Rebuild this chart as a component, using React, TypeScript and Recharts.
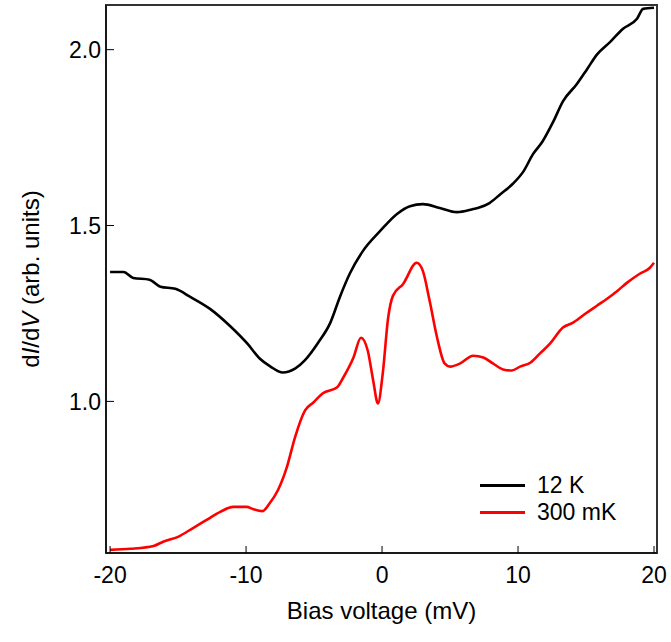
import React from 'react';
import { LineChart, Line, XAxis, YAxis, ReferenceArea } from 'recharts';

// 12 K curve: bias (mV) and dI/dV
const warmBias = [-20.0, -19.0, -18.3, -17.1, -16.3, -15.2, -14.1, -12.65, -11.2, -9.9, -9.0, -8.2, -7.3, -6.4, -5.7, -4.7, -3.8, -3.1, -2.35, -1.4, -0.15, 1.1, 2.05, 3.0, 4.25, 5.5, 6.7, 7.2, 7.9, 8.7, 9.6, 10.4, 11.1, 11.8, 12.6, 13.3, 14.3, 15.1, 15.8, 16.8, 17.7, 18.75, 19.2, 20.0];
const warmCond = [1.368, 1.368, 1.351, 1.346, 1.326, 1.32, 1.297, 1.263, 1.215, 1.164, 1.122, 1.099, 1.082, 1.093, 1.116, 1.167, 1.224, 1.297, 1.365, 1.428, 1.484, 1.533, 1.555, 1.561, 1.55, 1.538, 1.547, 1.552, 1.564, 1.589, 1.618, 1.654, 1.703, 1.739, 1.796, 1.853, 1.901, 1.946, 1.986, 2.023, 2.059, 2.088, 2.116, 2.119];

// 300 mK curve
const coldBias = [-20.0, -18.5, -16.8, -16.1, -15.0, -13.9, -12.9, -11.9, -10.95, -9.95, -9.5, -8.8, -8.25, -7.65, -7.0, -6.4, -5.65, -5.05, -4.35, -3.3, -2.85, -2.1, -1.55, -1.05, -0.65, -0.3, 0.05, 0.45, 0.8, 1.55, 2.55, 3.0, 3.5, 4.05, 4.6, 5.0, 5.75, 6.7, 7.45, 8.15, 8.9, 9.55, 10.15, 10.9, 11.6, 12.35, 13.3, 14.05, 15.05, 15.8, 16.55, 17.3, 18.0, 18.95, 19.7, 20.0];
const coldCond = [0.578, 0.581, 0.589, 0.601, 0.615, 0.64, 0.663, 0.686, 0.7, 0.7, 0.694, 0.688, 0.711, 0.748, 0.813, 0.898, 0.975, 0.997, 1.023, 1.04, 1.068, 1.125, 1.181, 1.144, 1.059, 0.994, 1.079, 1.238, 1.3, 1.334, 1.394, 1.371, 1.286, 1.181, 1.108, 1.099, 1.108, 1.13, 1.125, 1.108, 1.091, 1.088, 1.099, 1.11, 1.136, 1.164, 1.21, 1.224, 1.252, 1.272, 1.292, 1.314, 1.337, 1.363, 1.38, 1.394];

const xTicks = [-20, -10, 0, 10, 20];
const yTicks = [1.0, 1.5, 2.0];
const xDomain = [-20.3, 20.22];
const yDomain = [0.569, 2.127];

const series = [
  { name: '12 K', color: '#000000', data: warmBias.map((v, i) => ({ v, g: warmCond[i] })) },
  { name: '300 mK', color: '#ff0000', data: coldBias.map((v, i) => ({ v, g: coldCond[i] })) },
];

const FONT = 'Liberation Sans, Arial, sans-serif';

const YLabel = (props: any) => {
  const vb = props.viewBox;
  const cx = 30;
  const cy = vb.y + vb.height / 2;
  return (
    <text x={cx} y={cy} transform={`rotate(-90 ${cx} ${cy})`} textAnchor="middle" dominantBaseline="central"
      fontFamily={FONT} fontSize={24} fill="#000">
      d<tspan fontStyle="italic">I</tspan>/d<tspan fontStyle="italic">V</tspan> (arb. units)
    </text>
  );
};

const XLabel = (props: any) => {
  const vb = props.viewBox;
  return (
    <text x={vb.x + vb.width / 2} y={vb.y + 57} textAnchor="middle" dominantBaseline="central"
      fontFamily={FONT} fontSize={24} fill="#000">
      Bias voltage (mV)
    </text>
  );
};

export default function App() {
  return (
    <div style={{ position: 'relative', width: 671, height: 642, background: '#fff' }}>
      <style>{'body{margin:0}'}</style>
      <LineChart width={671} height={642} margin={{ top: 5, right: 14, left: 0, bottom: 0 }}>
        <XAxis
          dataKey="v"
          type="number"
          domain={xDomain}
          ticks={xTicks}
          allowDataOverflow
          height={89}
          tickSize={-7}
          tickMargin={21}
          stroke="#000"
          tick={{ fill: '#000', fontSize: 23, fontFamily: FONT }}
          label={{ content: XLabel }}
        />
        <YAxis
          type="number"
          domain={yDomain}
          ticks={yTicks}
          allowDataOverflow
          width={106}
          tickSize={-8}
          tickMargin={13}
          stroke="#000"
          tickFormatter={(t: number) => t.toFixed(1)}
          tick={{ fill: '#000', fontSize: 23, fontFamily: FONT }}
          label={{ content: YLabel }}
        />
        {/* plot frame */}
        <ReferenceArea
          x1={xDomain[0]}
          x2={xDomain[1]}
          y1={yDomain[0]}
          y2={yDomain[1]}
          fill="none"
          fillOpacity={0}
          stroke="#333"
          strokeWidth={2}
          ifOverflow="visible"
        />
        {series.map((s) => (
          <Line
            key={s.name}
            data={s.data}
            dataKey="g"
            name={s.name}
            type="monotone"
            stroke={s.color}
            strokeWidth={2.6}
            dot={false}
            isAnimationActive={false}
          />
        ))}
      </LineChart>
      <div style={{ position: 'absolute', left: 480, top: 472, fontFamily: FONT, fontSize: 23 }}>
        {series.map((s) => (
          <div key={s.name} style={{ display: 'flex', alignItems: 'center', height: 27 }}>
            <div style={{ width: 45, height: 3, background: s.color, marginRight: 12 }} />
            <span>{s.name}</span>
          </div>
        ))}
      </div>
    </div>
  );
}
